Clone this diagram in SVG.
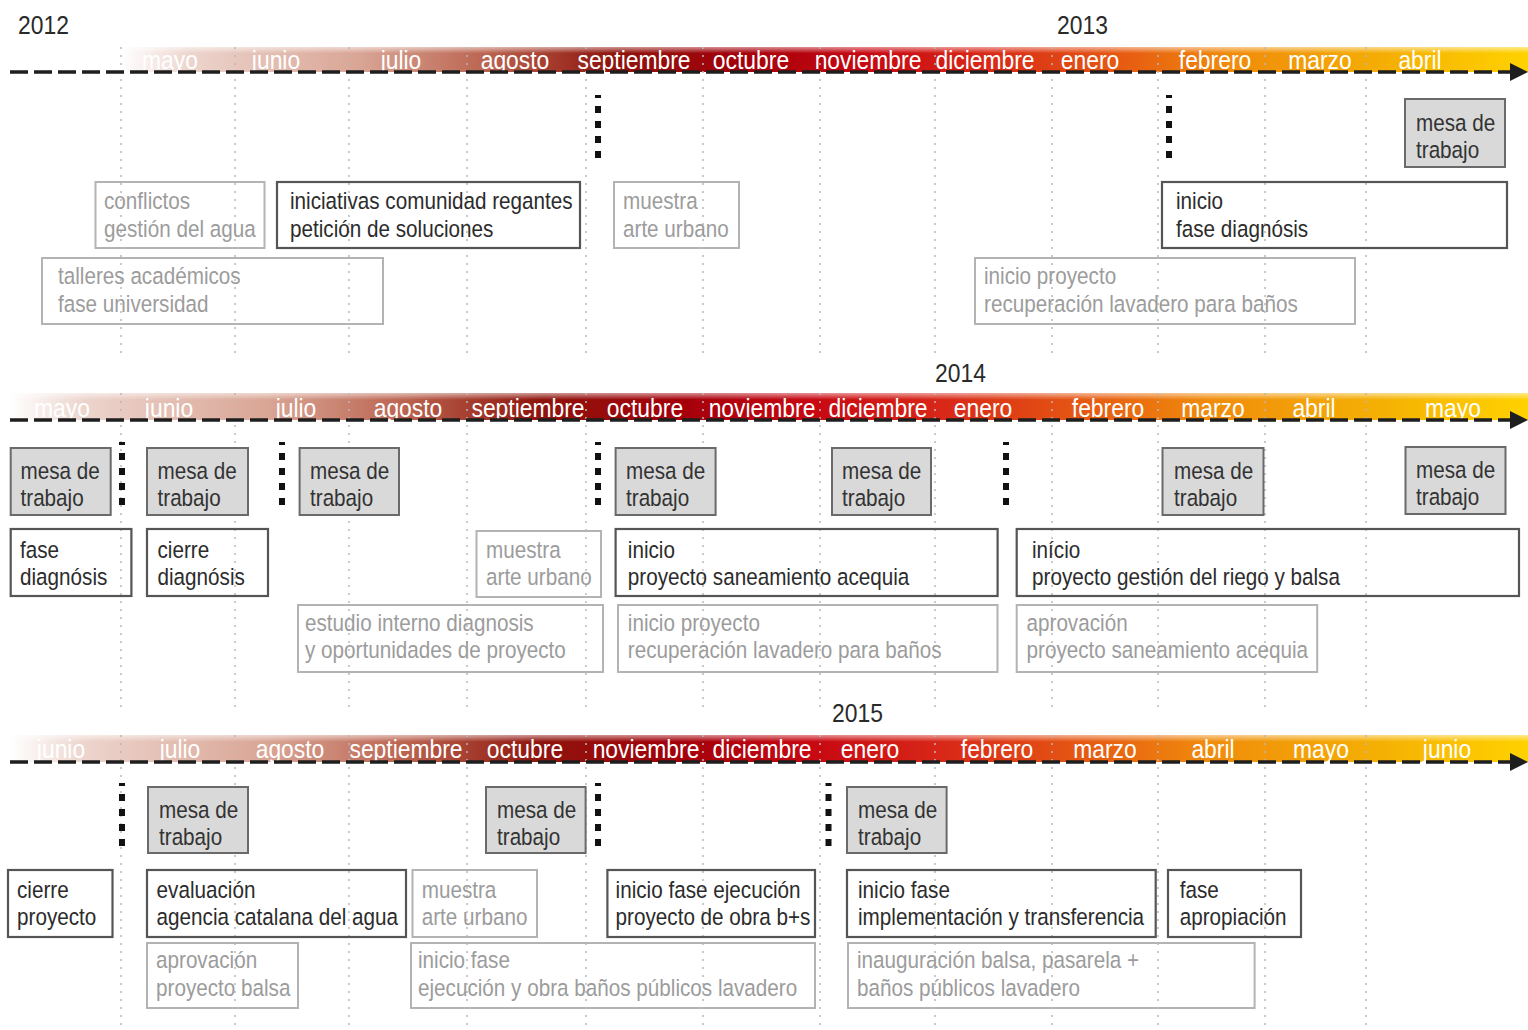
<svg xmlns="http://www.w3.org/2000/svg" width="1528" height="1030" viewBox="0 0 1528 1030">
<style>
text{font-family:"Liberation Sans",Arial,sans-serif}
.yr{font-size:26px;fill:#2a2a2a}
.mo{font-size:26px;fill:#ffffff;text-anchor:middle}
.t{font-size:23.5px}
.grid{stroke:#b8b8b8;stroke-width:1.5;stroke-dasharray:2 6;fill:none}
.axis{stroke:#1e1e1e;stroke-width:3.5;stroke-dasharray:18 6;fill:none}
.mk{stroke:#111;stroke-width:6;stroke-dasharray:7 8;stroke-dashoffset:4;fill:none}
.mesa rect{fill:#d9d9d9;stroke:#6a6a6a;stroke-width:2}
.mesa text{fill:#333}
.dk rect{fill:none;stroke:#555;stroke-width:2.2}
.dk text{fill:#2c2c2c}
.lt rect{fill:none;stroke:#b3b3b3;stroke-width:2}
.lt text{fill:#9c9c9c}
</style>
<defs>
<linearGradient id="band" x1="0" y1="0" x2="1" y2="0">
<stop offset="0" stop-color="#ffffff"/>
<stop offset="0.05" stop-color="#ecd4cc"/>
<stop offset="0.17" stop-color="#d9a595"/>
<stop offset="0.26" stop-color="#bb6450"/>
<stop offset="0.35" stop-color="#8e140c"/>
<stop offset="0.44" stop-color="#a3000a"/>
<stop offset="0.53" stop-color="#c80812"/>
<stop offset="0.62" stop-color="#d92a18"/>
<stop offset="0.71" stop-color="#e65a12"/>
<stop offset="0.79" stop-color="#f08c0c"/>
<stop offset="0.89" stop-color="#f4ac04"/>
<stop offset="1" stop-color="#ffd200"/>
</linearGradient>
<linearGradient id="fadeTop" x1="0" y1="0" x2="0" y2="1">
<stop offset="0" stop-color="#fff" stop-opacity="0.55"/>
<stop offset="0.25" stop-color="#fff" stop-opacity="0"/>
</linearGradient>
<marker id="arr" markerUnits="userSpaceOnUse" markerWidth="18" markerHeight="18" viewBox="0 0 18 18" refX="2" refY="9" orient="auto">
<path d="M0,0 L18,9 L0,18 z" fill="#1e1e1e"/>
</marker>
</defs>

<g id="bands">
<rect x="121" y="47" width="1407" height="25" fill="url(#band)"/>
<rect x="121" y="47" width="1407" height="25" fill="url(#fadeTop)"/>
<rect x="10" y="393" width="1518" height="27" fill="url(#band)"/>
<rect x="10" y="393" width="1518" height="27" fill="url(#fadeTop)"/>
<rect x="10" y="735" width="1518" height="27" fill="url(#band)"/>
<rect x="10" y="735" width="1518" height="27" fill="url(#fadeTop)"/>
</g>

<g id="grid">
<path class="grid" d="M121,47V355M235,47V355M349,47V355M467,47V355M586,47V355M703,47V355M820,47V355M935,47V355M1052,47V355M1158,47V355M1265,47V355M1366,47V355"/>
<path class="grid" d="M121,393V712M235,393V712M349,393V712M467,393V712M586,393V712M703,393V712M820,393V712M935,393V712M1052,393V712M1158,393V712M1265,393V712M1366,393V712"/>
<path class="grid" d="M121,735V1028M235,735V1028M349,735V1028M467,735V1028M586,735V1028M703,735V1028M820,735V1028M935,735V1028M1052,735V1028M1158,735V1028M1265,735V1028M1366,735V1028"/>
</g>

<g id="years">
<text class="yr" transform="translate(18 34) scale(.88 1)">2012</text>
<text class="yr" transform="translate(1057 34) scale(.88 1)">2013</text>
<text class="yr" transform="translate(935 382) scale(.88 1)">2014</text>
<text class="yr" transform="translate(832 722) scale(.88 1)">2015</text>
</g>

<g id="months">
<text class="mo" transform="translate(170 69) scale(.88 1)">mayo</text>
<text class="mo" transform="translate(276 69) scale(.88 1)">junio</text>
<text class="mo" transform="translate(401 69) scale(.88 1)">julio</text>
<text class="mo" transform="translate(515 69) scale(.88 1)">agosto</text>
<text class="mo" transform="translate(634 69) scale(.88 1)">septiembre</text>
<text class="mo" transform="translate(751 69) scale(.88 1)">octubre</text>
<text class="mo" transform="translate(868 69) scale(.88 1)">noviembre</text>
<text class="mo" transform="translate(985 69) scale(.88 1)">diciembre</text>
<text class="mo" transform="translate(1090 69) scale(.88 1)">enero</text>
<text class="mo" transform="translate(1215 69) scale(.88 1)">febrero</text>
<text class="mo" transform="translate(1320 69) scale(.88 1)">marzo</text>
<text class="mo" transform="translate(1420 69) scale(.88 1)">abril</text>

<text class="mo" transform="translate(62 417) scale(.88 1)">mayo</text>
<text class="mo" transform="translate(169 417) scale(.88 1)">junio</text>
<text class="mo" transform="translate(296 417) scale(.88 1)">julio</text>
<text class="mo" transform="translate(408 417) scale(.88 1)">agosto</text>
<text class="mo" transform="translate(528 417) scale(.88 1)">septiembre</text>
<text class="mo" transform="translate(645 417) scale(.88 1)">octubre</text>
<text class="mo" transform="translate(762 417) scale(.88 1)">noviembre</text>
<text class="mo" transform="translate(878 417) scale(.88 1)">diciembre</text>
<text class="mo" transform="translate(983 417) scale(.88 1)">enero</text>
<text class="mo" transform="translate(1108 417) scale(.88 1)">febrero</text>
<text class="mo" transform="translate(1213 417) scale(.88 1)">marzo</text>
<text class="mo" transform="translate(1314 417) scale(.88 1)">abril</text>
<text class="mo" transform="translate(1453 417) scale(.88 1)">mayo</text>

<text class="mo" transform="translate(61 758) scale(.88 1)">junio</text>
<text class="mo" transform="translate(180 758) scale(.88 1)">julio</text>
<text class="mo" transform="translate(290 758) scale(.88 1)">agosto</text>
<text class="mo" transform="translate(406 758) scale(.88 1)">septiembre</text>
<text class="mo" transform="translate(525 758) scale(.88 1)">octubre</text>
<text class="mo" transform="translate(646 758) scale(.88 1)">noviembre</text>
<text class="mo" transform="translate(762 758) scale(.88 1)">diciembre</text>
<text class="mo" transform="translate(870 758) scale(.88 1)">enero</text>
<text class="mo" transform="translate(997 758) scale(.88 1)">febrero</text>
<text class="mo" transform="translate(1105 758) scale(.88 1)">marzo</text>
<text class="mo" transform="translate(1213 758) scale(.88 1)">abril</text>
<text class="mo" transform="translate(1321 758) scale(.88 1)">mayo</text>
<text class="mo" transform="translate(1447 758) scale(.88 1)">junio</text>
</g>

<g id="connectors">
<line class="axis" x1="10" y1="72" x2="1512" y2="72" marker-end="url(#arr)"/>
<line class="axis" x1="10" y1="420" x2="1512" y2="420" marker-end="url(#arr)"/>
<line class="axis" x1="10" y1="762" x2="1512" y2="762" marker-end="url(#arr)"/>
<path class="mk" d="M598,95V164M1169,95V164"/>
<path class="mk" d="M122,442V509M282,442V509M598,442V509M1006,442V509"/>
<path class="mk" d="M122,783V850M598,783V850M828.5,783V850"/>
</g>

<!-- Row 1 -->
<g id="r1-mesa" class="mesa"><rect x="1405" y="99" width="100" height="68"/>
<text class="t" transform="translate(1416 130.5) scale(.88 1)"><tspan x="0" y="0">mesa de</tspan><tspan x="0" y="27.5">trabajo</tspan></text></g>
<g id="r1-inicio-diagnosis" class="dk"><rect x="1162" y="182" width="345" height="66"/>
<text class="t" transform="translate(1176 209) scale(.88 1)"><tspan x="0" y="0">inicio</tspan><tspan x="0" y="28">fase diagnósis</tspan></text></g>
<g id="r1-conflictos" class="lt"><rect x="95.5" y="182" width="169" height="66"/>
<text class="t" transform="translate(104 209) scale(.88 1)"><tspan x="0" y="0">conflictos</tspan><tspan x="0" y="28">gestión del agua</tspan></text></g>
<g id="r1-iniciativas" class="dk"><rect x="277" y="182" width="303" height="66"/>
<text class="t" transform="translate(290 209) scale(.88 1)"><tspan x="0" y="0">iniciativas comunidad regantes</tspan><tspan x="0" y="28">petición de soluciones</tspan></text></g>
<g id="r1-muestra" class="lt"><rect x="614" y="182" width="125" height="66"/>
<text class="t" transform="translate(623 209) scale(.88 1)"><tspan x="0" y="0">muestra</tspan><tspan x="0" y="28">arte urbano</tspan></text></g>
<g id="r1-talleres" class="lt"><rect x="42" y="258" width="341" height="66"/>
<text class="t" transform="translate(58 284) scale(.88 1)"><tspan x="0" y="0">talleres académicos</tspan><tspan x="0" y="28">fase universidad</tspan></text></g>
<g id="r1-lavadero" class="lt"><rect x="975" y="258" width="380" height="66"/>
<text class="t" transform="translate(984 284) scale(.88 1)"><tspan x="0" y="0">inicio proyecto</tspan><tspan x="0" y="28">recuperación lavadero para baños</tspan></text></g>

<!-- Row 2 -->
<g id="r2-mesa1" class="mesa"><rect x="10.7" y="448" width="100" height="67"/>
<text class="t" transform="translate(20.5 479) scale(.88 1)"><tspan x="0" y="0">mesa de</tspan><tspan x="0" y="27.5">trabajo</tspan></text></g>
<g id="r2-mesa2" class="mesa"><rect x="147" y="448" width="101" height="67"/>
<text class="t" transform="translate(157.5 479) scale(.88 1)"><tspan x="0" y="0">mesa de</tspan><tspan x="0" y="27.5">trabajo</tspan></text></g>
<g id="r2-mesa3" class="mesa"><rect x="299.6" y="448" width="99.4" height="67"/>
<text class="t" transform="translate(310 479) scale(.88 1)"><tspan x="0" y="0">mesa de</tspan><tspan x="0" y="27.5">trabajo</tspan></text></g>
<g id="r2-mesa4" class="mesa"><rect x="615.6" y="448" width="100" height="67"/>
<text class="t" transform="translate(626 479) scale(.88 1)"><tspan x="0" y="0">mesa de</tspan><tspan x="0" y="27.5">trabajo</tspan></text></g>
<g id="r2-mesa5" class="mesa"><rect x="832" y="448" width="99" height="67"/>
<text class="t" transform="translate(842 479) scale(.88 1)"><tspan x="0" y="0">mesa de</tspan><tspan x="0" y="27.5">trabajo</tspan></text></g>
<g id="r2-mesa6" class="mesa"><rect x="1162.5" y="448" width="101" height="67"/>
<text class="t" transform="translate(1174 479) scale(.88 1)"><tspan x="0" y="0">mesa de</tspan><tspan x="0" y="27.5">trabajo</tspan></text></g>
<g id="r2-mesa7" class="mesa"><rect x="1405.5" y="447" width="100" height="67"/>
<text class="t" transform="translate(1416 478) scale(.88 1)"><tspan x="0" y="0">mesa de</tspan><tspan x="0" y="27.5">trabajo</tspan></text></g>

<g id="r2-fase-diagnosis" class="dk"><rect x="10.7" y="529" width="120.7" height="67"/>
<text class="t" transform="translate(20 557.5) scale(.88 1)"><tspan x="0" y="0">fase</tspan><tspan x="0" y="27.5">diagnósis</tspan></text></g>
<g id="r2-cierre-diagnosis" class="dk"><rect x="147" y="529" width="121" height="67"/>
<text class="t" transform="translate(157.5 557.5) scale(.88 1)"><tspan x="0" y="0">cierre</tspan><tspan x="0" y="27.5">diagnósis</tspan></text></g>
<g id="r2-muestra" class="lt"><rect x="476.5" y="531" width="124.5" height="66"/>
<text class="t" transform="translate(486 557.5) scale(.88 1)"><tspan x="0" y="0">muestra</tspan><tspan x="0" y="27.5">arte urbano</tspan></text></g>
<g id="r2-saneamiento" class="dk"><rect x="615.6" y="529" width="382" height="67"/>
<text class="t" transform="translate(627.8 557.5) scale(.88 1)"><tspan x="0" y="0">inicio</tspan><tspan x="0" y="27.5">proyecto saneamiento acequia</tspan></text></g>
<g id="r2-riego" class="dk"><rect x="1016.7" y="529" width="502.3" height="67"/>
<text class="t" transform="translate(1032 557.5) scale(.88 1)"><tspan x="0" y="0">início</tspan><tspan x="0" y="27.5">proyecto gestión del riego y balsa</tspan></text></g>

<g id="r2-estudio" class="lt"><rect x="298" y="605" width="305" height="67"/>
<text class="t" transform="translate(305 631) scale(.88 1)"><tspan x="0" y="0">estudio interno diagnosis</tspan><tspan x="0" y="27.5">y oportunidades de proyecto</tspan></text></g>
<g id="r2-lavadero" class="lt"><rect x="618" y="605" width="379.5" height="67"/>
<text class="t" transform="translate(627.8 631) scale(.88 1)"><tspan x="0" y="0">inicio proyecto</tspan><tspan x="0" y="27.5">recuperación lavadero para baños</tspan></text></g>
<g id="r2-aprovacion" class="lt"><rect x="1016.7" y="605" width="300.5" height="67"/>
<text class="t" transform="translate(1026.5 631) scale(.88 1)"><tspan x="0" y="0">aprovación</tspan><tspan x="0" y="27.5">proyecto saneamiento acequia</tspan></text></g>

<!-- Row 3 -->
<g id="r3-mesa1" class="mesa"><rect x="148" y="787" width="100" height="66"/>
<text class="t" transform="translate(159 818) scale(.88 1)"><tspan x="0" y="0">mesa de</tspan><tspan x="0" y="27.5">trabajo</tspan></text></g>
<g id="r3-mesa2" class="mesa"><rect x="486" y="787" width="99.6" height="66"/>
<text class="t" transform="translate(497 818) scale(.88 1)"><tspan x="0" y="0">mesa de</tspan><tspan x="0" y="27.5">trabajo</tspan></text></g>
<g id="r3-mesa3" class="mesa"><rect x="847" y="787" width="99.6" height="66"/>
<text class="t" transform="translate(858 818) scale(.88 1)"><tspan x="0" y="0">mesa de</tspan><tspan x="0" y="27.5">trabajo</tspan></text></g>

<g id="r3-cierre-proyecto" class="dk"><rect x="8" y="870" width="104.5" height="67"/>
<text class="t" transform="translate(17 897.5) scale(.88 1)"><tspan x="0" y="0">cierre</tspan><tspan x="0" y="27.5">proyecto</tspan></text></g>
<g id="r3-evaluacion" class="dk"><rect x="147" y="870" width="259" height="67"/>
<text class="t" transform="translate(156.6 897.5) scale(.88 1)"><tspan x="0" y="0">evaluación</tspan><tspan x="0" y="27.5">agencia catalana del agua</tspan></text></g>
<g id="r3-muestra" class="lt"><rect x="412.5" y="870" width="124.5" height="67"/>
<text class="t" transform="translate(421.7 897.5) scale(.88 1)"><tspan x="0" y="0">muestra</tspan><tspan x="0" y="27.5">arte urbano</tspan></text></g>
<g id="r3-ejecucion-obra" class="dk"><rect x="607.4" y="870" width="207.6" height="67"/>
<text class="t" transform="translate(615.6 897.5) scale(.88 1)"><tspan x="0" y="0">inicio fase ejecución</tspan><tspan x="0" y="27.5">proyecto de obra b+s</tspan></text></g>
<g id="r3-implementacion" class="dk"><rect x="847" y="870" width="308.7" height="67"/>
<text class="t" transform="translate(858 897.5) scale(.88 1)"><tspan x="0" y="0">inicio fase</tspan><tspan x="0" y="27.5">implementación y transferencia</tspan></text></g>
<g id="r3-apropiacion" class="dk"><rect x="1168" y="870" width="133" height="67"/>
<text class="t" transform="translate(1179.7 897.5) scale(.88 1)"><tspan x="0" y="0">fase</tspan><tspan x="0" y="27.5">apropiación</tspan></text></g>

<g id="r3-aprovacion-balsa" class="lt"><rect x="147" y="943" width="151" height="65"/>
<text class="t" transform="translate(156 968) scale(.88 1)"><tspan x="0" y="0">aprovación</tspan><tspan x="0" y="28">proyecto balsa</tspan></text></g>
<g id="r3-banos" class="lt"><rect x="411" y="943" width="404" height="65"/>
<text class="t" transform="translate(418 968) scale(.88 1)"><tspan x="0" y="0">inicio fase</tspan><tspan x="0" y="28">ejecución y obra baños públicos lavadero</tspan></text></g>
<g id="r3-inauguracion" class="lt"><rect x="848" y="943" width="406.6" height="65"/>
<text class="t" transform="translate(857 968) scale(.88 1)"><tspan x="0" y="0">inauguración balsa, pasarela +</tspan><tspan x="0" y="28">baños públicos lavadero</tspan></text></g>
</svg>
